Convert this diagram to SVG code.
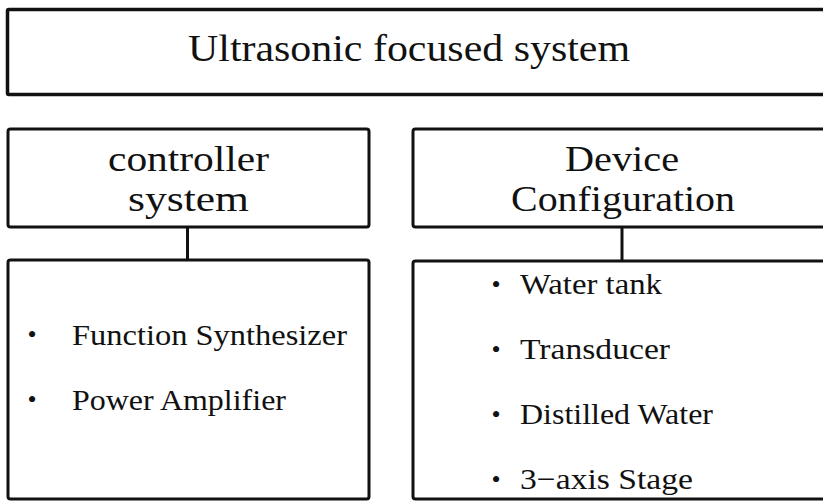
<svg xmlns="http://www.w3.org/2000/svg" width="823" height="501" viewBox="0 0 823 501">
  <style>
    .box { fill: #ffffff; stroke: #111111; stroke-width: 3; }
    .title { fill: none; stroke: #111111; stroke-width: 3.5; }
    .conn { stroke: #111111; stroke-width: 3; fill: none; }
    text { font-family: "Liberation Serif", "Times New Roman", serif; fill: #111111; }
    .t1 { font-size: 38px; }
    .hd { font-size: 35px; text-anchor: middle; }
    .it { font-size: 30px; }
    .bl { font-size: 26px; text-anchor: middle; }
  </style>
  <rect x="0" y="0" width="823" height="501" fill="#ffffff"/>

  <g id="top">
    <rect class="title" x="7.5" y="9.5" width="830" height="85" rx="1.5"/>
    <text class="t1" x="188" y="61" textLength="442" lengthAdjust="spacingAndGlyphs">Ultrasonic focused system</text>
  </g>

  <g id="controller-header">
    <rect class="box" x="8" y="129" width="361" height="98" rx="2.5"/>
    <text class="hd" x="188.5" y="171" textLength="161" lengthAdjust="spacingAndGlyphs">controller</text>
    <text class="hd" x="188.5" y="211" textLength="121" lengthAdjust="spacingAndGlyphs">system</text>
  </g>

  <g id="device-header">
    <rect class="box" x="413" y="129" width="420" height="98" rx="2.5"/>
    <text class="hd" x="622" y="171" textLength="114" lengthAdjust="spacingAndGlyphs">Device</text>
    <text class="hd" x="623" y="211" textLength="224" lengthAdjust="spacingAndGlyphs">Configuration</text>
  </g>

  <g id="controller-content">
    <rect class="box" x="8" y="260" width="361" height="239" rx="2.5"/>
    <text class="bl" x="32" y="343">•</text>
    <text class="it" x="72" y="345" textLength="275" lengthAdjust="spacingAndGlyphs">Function Synthesizer</text>
    <text class="bl" x="32" y="408">•</text>
    <text class="it" x="72" y="410" textLength="214" lengthAdjust="spacingAndGlyphs">Power Amplifier</text>
  </g>

  <g id="device-content">
    <rect class="box" x="413" y="261" width="420" height="238" rx="2.5"/>
    <text class="bl" x="496" y="293">•</text>
    <text class="it" x="520" y="294" textLength="142" lengthAdjust="spacingAndGlyphs">Water tank</text>
    <text class="bl" x="496" y="358">•</text>
    <text class="it" x="520" y="359" textLength="150" lengthAdjust="spacingAndGlyphs">Transducer</text>
    <text class="bl" x="496" y="423">•</text>
    <text class="it" x="520" y="424" textLength="193" lengthAdjust="spacingAndGlyphs">Distilled Water</text>
    <text class="bl" x="496" y="488">•</text>
    <text class="it" x="520" y="489" textLength="173" lengthAdjust="spacingAndGlyphs">3−axis Stage</text>
  </g>

  <g id="connectors">
    <line class="conn" x1="187.5" y1="227" x2="187.5" y2="260"/>
    <line class="conn" x1="622" y1="227" x2="622" y2="261"/>
  </g>
</svg>
